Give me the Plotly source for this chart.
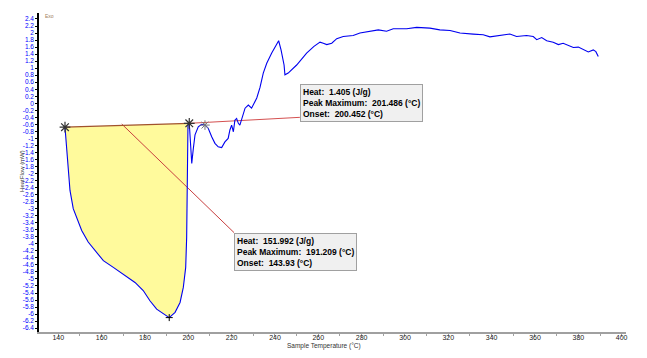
import plotly.graph_objects as go

# ---- data ----
temperature = [143.1, 143.55, 144.0, 144.6, 145.4, 146.9, 148.5, 150.8, 153.8, 156.9, 160.8, 165.4,
               170.8, 175.4, 179.2, 182.3, 185.4, 189.2, 191.2, 193.9, 196.2, 197.7, 198.8, 199.25,
               199.5, 199.85, 200.45, 201.0, 201.6, 202.3, 203.1, 204.6, 206.2, 207.7, 209.2, 210.8,
               212.3, 213.8, 215.4, 216.9, 218.4, 219.2, 220.0, 220.8, 221.5, 222.3, 223.1, 223.8,
               224.6, 226.2, 227.7, 229.2, 231.6, 233.1, 234.6, 236.2, 238.5, 240.5, 241.7, 242.8,
               244.2, 244.6, 246.1, 250.0, 254.6, 258.0, 260.8, 262.3, 263.9, 266.2, 268.5, 271.5,
               276.1, 279.2, 283.8, 287.7, 291.5, 294.6, 300.8, 305.4, 311.5, 316.1, 320.8, 325.4,
               331.5, 336.1, 339.2, 343.8, 348.4, 351.5, 356.1, 359.2, 360.8, 363.1, 365.4, 368.4,
               370.8, 373.0, 375.3, 377.7, 380.0, 382.3, 384.6, 386.9, 388.1, 389.2]
heat_flow = [-0.68, -1.05, -1.48, -1.91, -2.48, -3.0, -3.24, -3.62, -3.95, -4.19, -4.48, -4.67,
             -4.90, -5.10, -5.33, -5.62, -5.86, -6.02, -6.10, -5.95, -5.67, -5.24, -4.67, -3.81,
             -1.91, -0.62, -0.57, -1.2, -1.71, -1.3, -0.9, -0.67, -0.6, -0.62, -0.71, -0.95,
             -1.14, -1.24, -1.26, -1.10, -1.0, -0.76, -0.62, -0.81, -0.48, -0.43, -0.57, -0.62,
             -0.48, -0.14, -0.05, -0.14, 0.15, 0.45, 0.86, 1.14, 1.43, 1.67, 1.78, 1.52,
             1.09, 0.81, 0.86, 1.09, 1.43, 1.62, 1.74, 1.71, 1.67, 1.71, 1.84, 1.90,
             1.93, 2.0, 2.05, 2.09, 2.05, 2.12, 2.12, 2.16, 2.14, 2.09, 2.07, 2.0,
             1.97, 1.95, 1.89, 1.92, 1.97, 1.90, 1.93, 1.90, 1.81, 1.87, 1.78, 1.74,
             1.67, 1.71, 1.65, 1.59, 1.60, 1.52, 1.46, 1.52, 1.47, 1.33]

# integration baseline of peak 1 (onset -> end), and its extension for peak 2
baseline1_t = [143.1, 200.45]
baseline1_hf = [-0.68, -0.57]
baseline2_t = [200.45, 251.5]
baseline2_hf = [-0.57, -0.40]
# leader line from peak-1 baseline to its result box
leader_t = [169.3, 221.1]
leader_hf = [-0.59, -3.68]
# marker points
onset_t = [143.1, 200.45]
onset_hf = [-0.68, -0.57]
end2_t = [207.7]
end2_hf = [-0.62]
peak1_t = [191.2]
peak1_hf = [-6.10]

x_ticks = [140, 160, 180, 200, 220, 240, 260, 280, 300, 320, 340, 360, 380, 400]
y_ticks = [round(-6.4 + 0.2 * i, 1) for i in range(45)]
y_tick_labels = [f"{v:g}" for v in y_ticks]

result1 = ["Heat:  1.405 (J/g)", "Peak Maximum:  201.486 (°C)", "Onset:  200.452 (°C)"]
result2 = ["Heat:  151.992 (J/g)", "Peak Maximum:  191.209 (°C)", "Onset:  143.93 (°C)"]

# ---- figure ----
end_idx = temperature.index(200.45)
fill_x = temperature[:end_idx + 1] + baseline1_t[::-1]
fill_y = heat_flow[:end_idx + 1] + baseline1_hf[::-1]

fig = go.Figure()
fig.add_trace(go.Scatter(x=fill_x, y=fill_y, fill="toself", fillcolor="#FFFA9C",
                         line=dict(width=0), mode="lines", hoverinfo="skip"))
fig.add_trace(go.Scatter(x=baseline2_t, y=baseline2_hf, mode="lines",
                         line=dict(color="#D45050", width=1)))
fig.add_trace(go.Scatter(x=leader_t, y=leader_hf, mode="lines",
                         line=dict(color="#C84040", width=1)))
fig.add_trace(go.Scatter(x=baseline1_t, y=baseline1_hf, mode="lines",
                         line=dict(color="#A0522D", width=1.2)))
fig.add_trace(go.Scatter(x=temperature, y=heat_flow, mode="lines",
                         line=dict(color="#0000F0", width=1.1)))
fig.add_trace(go.Scatter(x=onset_t, y=onset_hf, mode="markers",
                         marker=dict(symbol="asterisk-open", size=9, color="#333333",
                                     line=dict(color="#333333", width=1.2))))
fig.add_trace(go.Scatter(x=end2_t, y=end2_hf, mode="markers",
                         marker=dict(symbol="asterisk-open", size=8, color="#777777",
                                     line=dict(color="#777777", width=1))))
fig.add_trace(go.Scatter(x=peak1_t, y=peak1_hf, mode="markers",
                         marker=dict(symbol="cross-thin-open", size=5, color="#000000",
                                     line=dict(color="#000000", width=1))))

font_family = "Liberation Sans, Arial, sans-serif"
box_font = dict(size=8.5, color="#000000", family=font_family)
annotations = [
    dict(x=251.5, y=0.55, xref="x", yref="y", xanchor="left", yanchor="top",
         text="<br>".join(f"<b>{s}</b>" for s in result1), showarrow=False, align="left",
         font=box_font, bgcolor="#F0F0F0", bordercolor="#A0A0A0", borderwidth=1, borderpad=2),
    dict(x=221.1, y=-3.68, xref="x", yref="y", xanchor="left", yanchor="top",
         text="<br>".join(f"<b>{s}</b>" for s in result2), showarrow=False, align="left",
         font=box_font, bgcolor="#F0F0F0", bordercolor="#A0A0A0", borderwidth=1, borderpad=2),
    dict(x=-0.029, y=0.505, xref="paper", yref="paper", text="HeatFlow (mW)",
         textangle=-90, showarrow=False, xanchor="center", yanchor="middle",
         font=dict(size=6, color="#333333", family=font_family)),
    dict(x=0.4855, y=-0.043, xref="paper", yref="paper", text="Sample Temperature (°C)",
         showarrow=False, xanchor="center", yanchor="middle",
         font=dict(size=6.5, color="#333333", family=font_family)),
    dict(x=0.0187, y=0.9915, xref="paper", yref="paper", text="Exo",
         showarrow=False, xanchor="center", yanchor="middle",
         font=dict(size=5, color="#A08060", family=font_family)),
]

# the page adds an 8px body margin, so the figure is 8px smaller and margins shifted
fig.update_layout(
    width=639, height=350,
    margin=dict(l=31, r=21, t=5, b=26),
    plot_bgcolor="white", paper_bgcolor="white",
    showlegend=False,
    annotations=annotations,
    xaxis=dict(range=[131.1, 402.0], showgrid=False, zeroline=False,
               showline=True, linecolor="#A0A0A0", linewidth=1.5,
               ticks="outside", ticklen=3, tickcolor="#A0A0A0",
               ticklabelstandoff=-5,
               tickvals=x_ticks, ticktext=[str(v) for v in x_ticks],
               tickfont=dict(size=7, color="#222222", family=font_family),
               minor=dict(ticks="outside", ticklen=2, tickcolor="#A0A0A0",
                          tickvals=[v + 10 for v in x_ticks[:-1]])),
    yaxis=dict(range=[-6.51, 2.57], showgrid=False, zeroline=False,
               showline=True, linecolor="#000000", linewidth=1.5,
               ticks="outside", ticklen=2, tickcolor="#000000",
               tickvals=y_ticks, ticktext=y_tick_labels,
               tickfont=dict(size=6.5, color="#0000FF", family=font_family)),
)

fig.write_html("out.html")
